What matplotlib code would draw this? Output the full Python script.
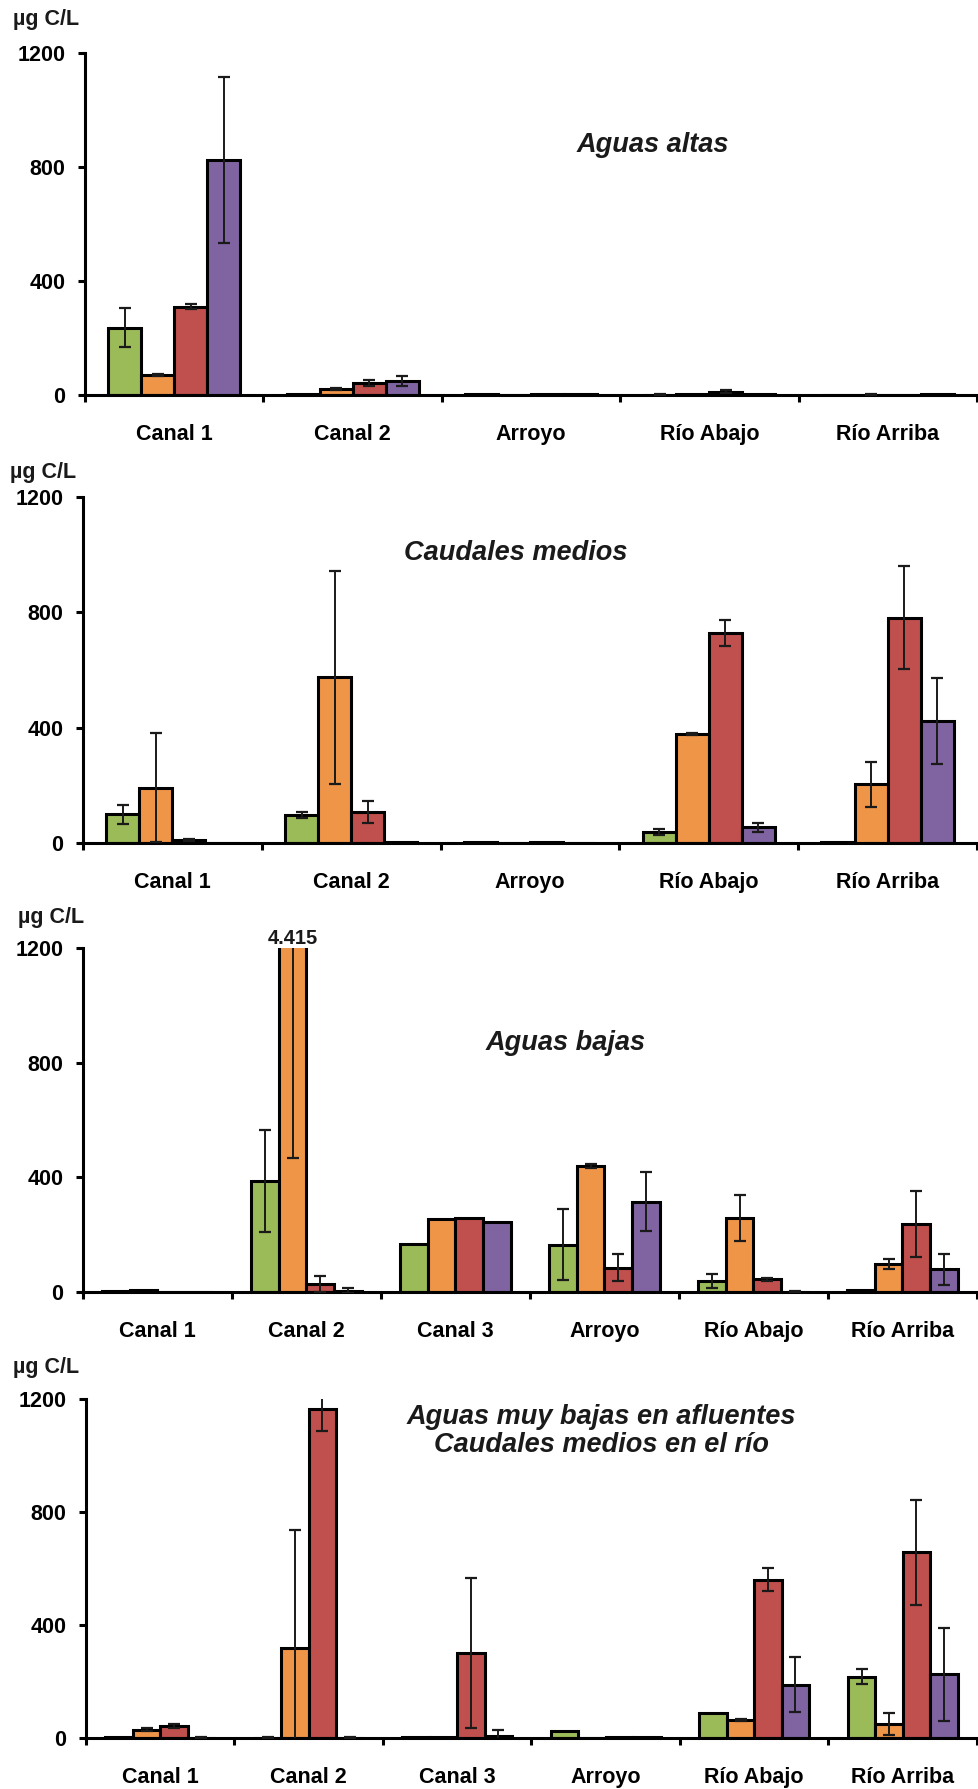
import matplotlib.pyplot as plt
import numpy as np

plt.rcParams["font.family"] = ["Liberation Sans", "DejaVu Sans"]
plt.rcParams["font.weight"] = "bold"

W, H = 979, 1789

cats_5 = ["Canal 1", "Canal 2", "Arroyo", "Río Abajo", "Río Arriba"]
cats_6 = ["Canal 1", "Canal 2", "Canal 3", "Arroyo", "Río Abajo", "Río Arriba"]

colors = ["#9BBB59", "#EE9548", "#C0504D", "#8064A2"]

# Aguas altas
altas_vals = [
    [236, 3, 5, 0, 0],
    [70, 22, 0, 2, 0],
    [310, 42, 4, 12, 1],
    [825, 48, 4, 5, 5],
]
altas_err = [
    [68, 0, 0, 3, 0],
    [3, 3, 0, 0, 3],
    [8, 10, 0, 5, 0],
    [290, 18, 0, 0, 0],
]

# Caudales medios
medios_vals = [
    [100, 98, 3, 37, 3],
    [192, 575, 0, 377, 204],
    [10, 108, 3, 729, 782],
    [0, 3, 0, 54, 423],
]
medios_err = [
    [33, 10, 0, 10, 0],
    [189, 370, 0, 3, 78],
    [3, 38, 0, 45, 178],
    [0, 0, 0, 15, 150],
]

# Aguas bajas
bajas_vals = [
    [3, 387, 169, 165, 38, 8],
    [8, 4415, 253, 440, 259, 97],
    [0, 28, 259, 85, 44, 237],
    [0, 5, 243, 315, 0, 79],
]
bajas_err = [
    [0, 179, 0, 124, 25, 0],
    [0, 3949, 0, 8, 80, 18],
    [0, 28, 0, 47, 6, 115],
    [0, 10, 0, 102, 3, 53],
]

# Aguas muy bajas en afluentes / caudales medios en el río
muybajas_vals = [
    [5, 0, 3, 24, 90, 217],
    [30, 317, 3, 0, 63, 50],
    [42, 1165, 301, 2, 561, 657],
    [0, 0, 8, 2, 189, 225],
]
muybajas_err = [
    [0, 3, 0, 0, 0, 27],
    [5, 421, 0, 0, 4, 40],
    [8, 80, 265, 0, 40, 185],
    [3, 3, 20, 0, 97, 165],
]

panels = [
    # cats, vals, err, (left, right, top, bottom) px, title, title center px
    (cats_5, altas_vals, altas_err, (85, 977, 53, 395), "Aguas altas", (653, 145)),
    (cats_5, medios_vals, medios_err, (83, 977, 497, 843), "Caudales medios", (516, 553)),
    (cats_6, bajas_vals, bajas_err, (83, 977, 948, 1292), "Aguas bajas", (566, 1043)),
    (cats_6, muybajas_vals, muybajas_err, (86, 977, 1399, 1738),
     "Aguas muy bajas en afluentes\nCaudales medios en el río", (601, 1431)),
]
unit_pos = [(13, 20), (10, 472), (18, 918), (13, 1368)]

fig = plt.figure(figsize=(W / 100, H / 100), dpi=100)

bar_w = 0.185
for (cats, vals, errs, box, title, tpos), upos in zip(panels, unit_pos):
    l, r, t, b = box
    ax = fig.add_axes([l / W, 1 - b / H, (r - l) / W, (b - t) / H])
    n = len(cats)
    centers = np.arange(n) + 0.5
    for j in range(4):
        x = centers + (j - 1.5) * bar_w
        v = np.array(vals[j], dtype=float)
        e = np.array(errs[j], dtype=float)
        ax.bar(x, v, width=bar_w, color=colors[j], edgecolor="black",
               linewidth=2.2, zorder=2)
        m = e > 0
        ax.errorbar(x[m], v[m], yerr=e[m], fmt="none", ecolor="#1a1a1a",
                    elinewidth=1.4, capsize=4.3, capthick=1.6, zorder=3)

    ax.set_xlim(0, n)
    ax.set_ylim(0, 1200)
    ax.set_yticks([0, 400, 800, 1200])
    ax.set_xticks(np.arange(n + 1))
    ax.set_xticklabels([])
    ax.set_xticks(centers, cats, minor=True)
    ax.tick_params(axis="x", which="major", length=5, width=2.2, direction="out")
    ax.tick_params(axis="x", which="minor", length=0, pad=21, labelsize=15.5)
    ax.tick_params(axis="y", length=5, width=2.2, pad=9, labelsize=15.5)
    for side in ("top", "right"):
        ax.spines[side].set_visible(False)
    for side in ("left", "bottom"):
        ax.spines[side].set_linewidth(2.2)

    ax.set_facecolor("none")

    fig.text(tpos[0] / W, 1 - tpos[1] / H, title, ha="center", va="center",
             fontsize=19.5, fontstyle="italic", fontweight="bold",
             linespacing=1.05, color="#1a1a1a")
    fig.text(upos[0] / W, 1 - upos[1] / H, "µg C/L", ha="left", va="center",
             fontsize=15.5, fontweight="bold", color="#1a1a1a")

    if vals is bajas_vals:
        # the Canal 2 orange bar runs off the scale, so its value is written on top
        ax.text(centers[1] - 0.5 * bar_w, 1200, "4.415", ha="center", va="bottom",
                fontsize=14.5, fontweight="bold", color="#1a1a1a")

fig.savefig("out.png", dpi=100)
